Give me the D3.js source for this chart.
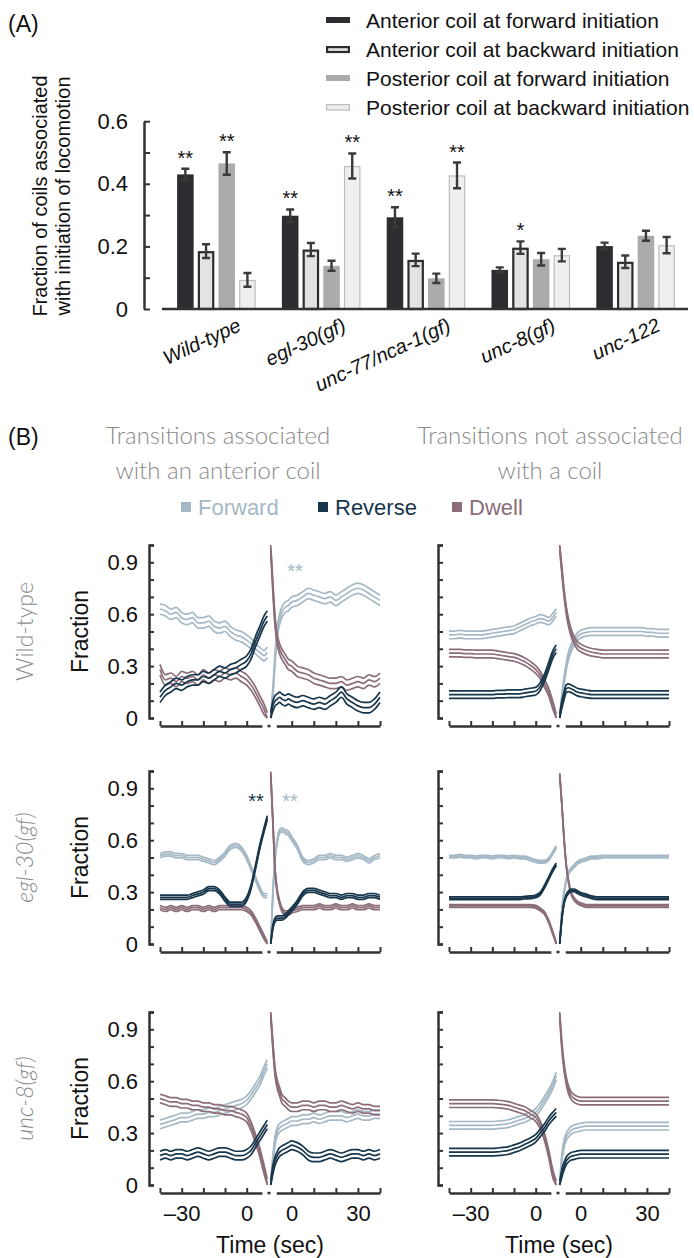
<!DOCTYPE html>
<html>
<head>
<meta charset="utf-8">
<script src="https://cdn.jsdelivr.net/npm/d3@7"></script>
<style>
  body { margin: 0; background: #fff; }
  svg { display: block; }
  text { font-family: "Liberation Sans", Arial, sans-serif; fill: #111; }
  .thin { font-family: Lato, "Open Sans", sans-serif; font-weight: 300; fill: #8a8a8a; }
</style>
</head>
<body>
<svg width="694" height="1258"></svg>
<script>
// ---- panel A data
const genotypes = ['Wild-type', 'egl-30(gf)', 'unc-77/nca-1(gf)', 'unc-8(gf)', 'unc-122']
const barNames = ['Anterior coil at forward initiation', 'Anterior coil at backward initiation',
  'Posterior coil at forward initiation', 'Posterior coil at backward initiation']
const antFwd = [0.43, 0.298, 0.293, 0.125, 0.201]
const antBwd = [0.185, 0.19, 0.157, 0.196, 0.151]
const postFwd = [0.465, 0.138, 0.098, 0.159, 0.234]
const postBwd = [0.093, 0.457, 0.427, 0.172, 0.204]
const antFwdErr = [0.018, 0.02, 0.032, 0.008, 0.011]
const antBwdErr = [0.022, 0.021, 0.02, 0.02, 0.02]
const postFwdErr = [0.036, 0.016, 0.015, 0.02, 0.016]
const postBwdErr = [0.022, 0.04, 0.041, 0.02, 0.026]
const antFwdSig = ['**', '**', '**', '', '']
const antBwdSig = ['', '', '', '*', '']
const postFwdSig = ['**', '', '', '', '']
const postBwdSig = ['', '**', '**', '', '']

// ---- panel B data (time in sec, value = fraction)
const tL = [-40, -37.5, -35, -32.5, -30, -27.5, -25, -22.5, -20, -17.5, -15, -12.5, -10, -7.5, -5, -2.5, 0, 2, 4, 6, 8, 9.5]
const tR = [-9.5, -8.5, -7.5, -6.5, -5.5, -4.5, -3, -1.5, 0, 2.5, 5, 7.5, 10, 12.5, 15, 17.5, 20, 22.5, 25, 27.5, 30, 32.5, 35, 37.5, 40]

const wtCoilFwdL = [.63,.62,.60,.61,.58,.57,.58,.55,.55,.56,.53,.52,.53,.50,.48,.47,.45,.43,.40,.38,.36,.38]
const wtCoilRevL = [.12,.16,.18,.20,.19,.21,.22,.22,.24,.23,.25,.27,.26,.28,.29,.31,.33,.37,.44,.50,.56,.59]
const wtCoilDwlL = [.28,.22,.23,.21,.24,.23,.24,.22,.25,.23,.25,.24,.26,.25,.26,.24,.22,.19,.15,.10,.05,0]
const wtCoilFwdR = [0,.15,.35,.50,.57,.61,.64,.65,.67,.68,.70,.72,.71,.70,.69,.70,.68,.70,.72,.74,.75,.74,.72,.70,.68]
const wtCoilRevR = [0,.07,.10,.11,.12,.11,.10,.11,.10,.09,.10,.09,.08,.09,.08,.10,.12,.15,.11,.09,.07,.06,.06,.08,.12]
const wtCoilDwlR = [.98,.75,.55,.45,.40,.37,.34,.31,.30,.27,.26,.25,.23,.22,.21,.20,.20,.21,.19,.20,.21,.20,.22,.21,.23]

const wtFreeFwdL = [.48,.48,.485,.48,.48,.48,.48,.485,.49,.495,.50,.505,.51,.525,.54,.555,.565,.575,.57,.56,.585,.61]
const wtFreeRevL = [.135,.135,.135,.135,.135,.135,.135,.135,.135,.138,.138,.14,.14,.14,.145,.15,.155,.18,.23,.30,.37,.40]
const wtFreeDwlL = [.375,.375,.375,.372,.372,.37,.37,.37,.37,.365,.36,.355,.35,.34,.325,.305,.28,.25,.20,.15,.07,0]
const wtFreeFwdR = [0,.12,.22,.30,.36,.40,.44,.47,.485,.495,.50,.50,.50,.50,.50,.50,.50,.50,.50,.50,.495,.495,.49,.49,.49]
const wtFreeRevR = [0,.08,.13,.17,.175,.17,.16,.15,.145,.14,.135,.135,.135,.135,.135,.135,.135,.135,.135,.135,.135,.135,.135,.135,.135]
const wtFreeDwlR = [.99,.85,.72,.62,.55,.50,.45,.42,.405,.39,.38,.375,.37,.37,.37,.37,.37,.37,.37,.37,.37,.37,.37,.37,.37]

const eglCoilFwdL = [.51,.52,.52,.51,.51,.50,.50,.50,.49,.48,.47,.49,.52,.56,.57,.55,.50,.44,.38,.32,.28,.28]
const eglCoilRevL = [.27,.27,.27,.27,.27,.27,.28,.29,.30,.32,.32,.30,.26,.23,.23,.23,.26,.33,.44,.56,.66,.73]
const eglCoilDwlL = [.21,.20,.21,.20,.21,.20,.21,.21,.20,.21,.20,.21,.21,.21,.21,.21,.20,.18,.14,.09,.04,0]
const eglCoilFwdR = [0,.30,.50,.60,.65,.66,.65,.64,.61,.56,.49,.47,.48,.50,.50,.51,.50,.50,.49,.50,.51,.50,.48,.50,.51]
const eglCoilRevR = [0,.10,.14,.15,.15,.15,.16,.18,.20,.24,.29,.31,.31,.30,.29,.28,.28,.27,.28,.28,.27,.27,.28,.28,.27]
const eglCoilDwlR = [.985,.70,.42,.30,.24,.20,.18,.18,.19,.20,.21,.21,.21,.22,.21,.21,.22,.21,.21,.22,.21,.21,.22,.21,.21]

const eglFreeFwdL = [.505,.505,.51,.505,.505,.50,.505,.505,.50,.505,.505,.50,.505,.50,.50,.49,.48,.475,.475,.49,.53,.56]
const eglFreeRevL = [.265,.265,.265,.265,.265,.265,.265,.265,.265,.265,.265,.265,.265,.265,.268,.27,.275,.29,.33,.38,.43,.46]
const eglFreeDwlL = [.22,.22,.22,.22,.22,.22,.22,.22,.22,.22,.22,.22,.22,.22,.22,.22,.215,.20,.18,.13,.06,0]
const eglFreeFwdR = [0,.20,.30,.37,.41,.43,.45,.47,.48,.49,.50,.50,.505,.505,.505,.505,.505,.505,.505,.505,.505,.505,.505,.505,.505]
const eglFreeRevR = [0,.15,.24,.28,.30,.31,.31,.30,.29,.28,.27,.265,.265,.265,.265,.265,.265,.265,.265,.265,.265,.265,.265,.265,.265]
const eglFreeDwlR = [.98,.80,.60,.45,.36,.30,.26,.24,.23,.22,.22,.22,.22,.22,.22,.22,.22,.22,.22,.22,.22,.22,.22,.22,.22]

const uncCoilFwdL = [.35,.36,.37,.38,.39,.39,.40,.41,.41,.42,.42,.43,.44,.45,.46,.47,.49,.52,.56,.60,.66,.70]
const uncCoilRevL = [.17,.18,.17,.18,.18,.17,.18,.19,.18,.17,.18,.19,.19,.18,.17,.17,.18,.20,.24,.28,.32,.35]
const uncCoilDwlL = [.50,.49,.48,.48,.47,.47,.46,.46,.45,.45,.44,.44,.43,.43,.42,.41,.39,.34,.27,.19,.09,.01]
const uncCoilFwdR = [0,.15,.26,.31,.33,.34,.35,.36,.37,.37,.38,.38,.39,.38,.39,.40,.40,.40,.39,.40,.41,.40,.40,.41,.41]
const uncCoilRevR = [0,.09,.14,.17,.19,.20,.21,.22,.23,.22,.20,.17,.16,.16,.17,.18,.17,.16,.17,.18,.18,.17,.18,.17,.18]
const uncCoilDwlR = [.99,.80,.65,.58,.54,.50,.48,.46,.45,.45,.46,.46,.45,.46,.46,.45,.45,.46,.45,.44,.45,.44,.44,.43,.43]

const uncFreeFwdL = [.345,.345,.345,.345,.345,.345,.345,.345,.345,.348,.35,.355,.365,.375,.385,.40,.42,.45,.49,.53,.58,.63]
const uncFreeRevL = [.19,.19,.19,.19,.19,.19,.19,.19,.19,.192,.195,.20,.21,.22,.235,.25,.27,.30,.33,.37,.40,.42]
const uncFreeDwlL = [.47,.47,.47,.47,.47,.47,.47,.47,.47,.468,.465,.46,.45,.44,.43,.41,.39,.35,.28,.18,.06,0]
const uncFreeFwdR = [0,.16,.24,.28,.30,.315,.325,.33,.335,.34,.34,.34,.34,.34,.34,.34,.34,.34,.34,.34,.34,.34,.34,.34,.34]
const uncFreeRevR = [0,.07,.11,.14,.155,.165,.17,.175,.178,.178,.178,.178,.178,.178,.178,.178,.178,.178,.178,.178,.178,.178,.178,.178,.178]
const uncFreeDwlR = [.99,.80,.68,.60,.55,.52,.50,.49,.485,.485,.485,.485,.485,.485,.485,.485,.485,.485,.485,.485,.485,.485,.485,.485,.485]

// standard error per panel (band half-width)
const semPanels = [0.03, 0.022, 0.012, 0.008, 0.025, 0.022]
const rowNames = ['Wild-type', 'egl-30(gf)', 'unc-8(gf)']
const stateNames = ['Forward', 'Reverse', 'Dwell']

const svg = d3.select('svg')
const ink = '#333'
const colFwd = '#a4b9c5', colRev = '#17364b', colDwl = '#8b6c79'

// ================= panel A
svg.append('text').attr('x', 8).attr('y', 32).style('font-size', '23px').text('(A)')

const yA = d3.scaleLinear().domain([0, 0.6]).range([309, 121.2])
const xA = d3.scaleBand().domain(genotypes).range([164, 688]).paddingInner(0.25).paddingOuter(0.125)
const xA1 = d3.scaleBand().domain(d3.range(4)).range([0, xA.bandwidth()]).paddingInner(0.2)

const barStyle = [
  { fill: '#2d2d31', stroke: 'none', sw: 0 },
  { fill: '#e3e3e3', stroke: '#2d2d2d', sw: 2.2 },
  { fill: '#ababab', stroke: 'none', sw: 0 },
  { fill: '#efefef', stroke: '#bdbdbd', sw: 1.2 }
]
const barVals = [antFwd, antBwd, postFwd, postBwd]
const barErrs = [antFwdErr, antBwdErr, postFwdErr, postBwdErr]
const barSigs = [antFwdSig, antBwdSig, postFwdSig, postBwdSig]

const bars = genotypes.flatMap((g, gi) => barVals.map((vals, si) => ({
  g, si, v: vals[gi], e: barErrs[si][gi], sig: barSigs[si][gi]
})))

const barG = svg.append('g')
  .selectAll('g')
  .data(bars)
  .join('g')
  .attr('transform', d => `translate(${xA(d.g) + xA1(d.si)},0)`)

barG.append('rect')
  .attr('x', d => barStyle[d.si].sw / 2)
  .attr('y', d => yA(d.v) + barStyle[d.si].sw / 2)
  .attr('width', d => xA1.bandwidth() - barStyle[d.si].sw)
  .attr('height', d => yA(0) - yA(d.v) - barStyle[d.si].sw / 2)
  .attr('fill', d => barStyle[d.si].fill)
  .attr('stroke', d => barStyle[d.si].stroke)
  .attr('stroke-width', d => barStyle[d.si].sw)

const bw = xA1.bandwidth()
barG.append('path')
  .attr('d', d => {
    const c = bw / 2, t = yA(d.v + d.e), b = yA(d.v - d.e)
    return `M${c},${t}V${b}M${c - 4},${t}H${c + 4}M${c - 4},${b}H${c + 4}`
  })
  .attr('fill', 'none').attr('stroke', '#3a3a3a').attr('stroke-width', 2.4)

barG.filter(d => d.sig).append('text')
  .attr('x', bw / 2)
  .attr('y', d => yA(d.v + d.e) - 4)
  .attr('text-anchor', 'middle')
  .style('font-size', '20px')
  .text(d => d.sig)

// baseline
svg.append('line').attr('x1', 162).attr('x2', 688).attr('y1', yA(0)).attr('y2', yA(0))
  .attr('stroke', ink).attr('stroke-width', 2.5)

const axA = svg.append('g').attr('transform', 'translate(144,0)')
  .call(d3.axisLeft(yA).tickValues([0, 0.1, 0.2, 0.3, 0.4, 0.5, 0.6])
    .tickSizeInner(-6).tickSizeOuter(0).tickPadding(16)
    .tickFormat(d => Math.round(d * 10) % 2 === 0 ? (d === 0 ? '0' : d3.format('.1f')(d)) : ''))
axA.select('.domain').attr('stroke', ink).attr('stroke-width', 2.5)
axA.selectAll('.tick line').attr('stroke', ink).attr('stroke-width', 2)
axA.selectAll('.tick text').style('font-size', '22px').attr('fill', '#111')

svg.append('text')
  .attr('transform', 'translate(47,196) rotate(-90)')
  .attr('text-anchor', 'middle').style('font-size', '20px')
  .text('Fraction of coils associated')
svg.append('text')
  .attr('transform', 'translate(70,196) rotate(-90)')
  .attr('text-anchor', 'middle').style('font-size', '20px')
  .text('with initiation of locomotion')

svg.append('g').selectAll('text')
  .data(genotypes)
  .join('text')
  .attr('transform', d => `translate(${xA(d) + xA.bandwidth() / 2 + 26},330) rotate(-25)`)
  .attr('text-anchor', 'end')
  .style('font-size', '20px').style('font-style', 'italic')
  .text(d => d)

const legA = svg.append('g').selectAll('g')
  .data(barNames)
  .join('g')
  .attr('transform', (d, i) => `translate(326,${20 + i * 29})`)
legA.append('rect')
  .attr('x', (d, i) => barStyle[i].sw / 2)
  .attr('y', (d, i) => -3 + barStyle[i].sw / 2)
  .attr('width', (d, i) => 24 - barStyle[i].sw)
  .attr('height', (d, i) => 6 - barStyle[i].sw / 2)
  .attr('fill', (d, i) => barStyle[i].fill)
  .attr('stroke', (d, i) => barStyle[i].stroke)
  .attr('stroke-width', (d, i) => barStyle[i].sw)
legA.append('text')
  .attr('x', 40).attr('dy', '0.36em')
  .style('font-size', '21px')
  .text(d => d)

// ================= panel B
svg.append('text').attr('x', 8).attr('y', 445).style('font-size', '23px').text('(B)')

const titles = [['Transitions associated', 'with an anterior coil'], ['Transitions not associated', 'with a coil']]
const titleX = [218, 550]
titles.forEach((lines, c) => {
  svg.append('text').attr('class', 'thin')
    .attr('x', titleX[c]).attr('y', 444)
    .attr('text-anchor', 'middle').style('font-size', '24px')
    .selectAll('tspan').data(lines).join('tspan')
    .attr('x', titleX[c]).attr('dy', (d, i) => i ? '1.45em' : 0)
    .text(d => d)
})

const stateCols = [colFwd, colRev, colDwl]
const legB = svg.append('g').selectAll('g')
  .data(stateNames)
  .join('g')
  .attr('transform', (d, i) => `translate(${[181, 318, 452][i]},507)`)
legB.append('rect').attr('x', 0).attr('y', -5).attr('width', 10).attr('height', 10)
  .attr('fill', (d, i) => stateCols[i])
legB.append('text').attr('x', 17).attr('dy', '0.36em')
  .style('font-size', '22px')
  .style('fill', (d, i) => stateCols[i])
  .text(d => d)

const xL = d3.scaleLinear().domain([-40, 0]).range([160, 246.7])
const xR = d3.scaleLinear().domain([0, 40]).range([291.7, 380])
const rowY0 = [718, 944, 1185]
const colDx = [0, 289]

const panels = [
  { r: 0, c: 0, fwd: [wtCoilFwdL, wtCoilFwdR], rev: [wtCoilRevL, wtCoilRevR], dwl: [wtCoilDwlL, wtCoilDwlR] },
  { r: 0, c: 1, fwd: [wtFreeFwdL, wtFreeFwdR], rev: [wtFreeRevL, wtFreeRevR], dwl: [wtFreeDwlL, wtFreeDwlR] },
  { r: 1, c: 0, fwd: [eglCoilFwdL, eglCoilFwdR], rev: [eglCoilRevL, eglCoilRevR], dwl: [eglCoilDwlL, eglCoilDwlR] },
  { r: 1, c: 1, fwd: [eglFreeFwdL, eglFreeFwdR], rev: [eglFreeRevL, eglFreeRevR], dwl: [eglFreeDwlL, eglFreeDwlR] },
  { r: 2, c: 0, fwd: [uncCoilFwdL, uncCoilFwdR], rev: [uncCoilRevL, uncCoilRevR], dwl: [uncCoilDwlL, uncCoilDwlR] },
  { r: 2, c: 1, fwd: [uncFreeFwdL, uncFreeFwdR], rev: [uncFreeRevL, uncFreeRevR], dwl: [uncFreeDwlL, uncFreeDwlR] }
]

// significance marks in panel B: [panel, half, time, value, colour]
const starsB = [
  [0, 'R', 1.5, 0.87, colFwd],
  [2, 'L', 4.3, 0.85, colRev],
  [2, 'R', -0.8, 0.85, colFwd]
]

function drawSeries (g, y, tt, xs, vals, sem, color) {
  [-1, 1, 0].forEach(k => {
    const line = d3.line()
      .x((d, i) => xs(tt[i]))
      .y(d => y(Math.min(1, Math.max(0, d + k * sem))))
      .curve(d3.curveMonotoneX)
    g.append('path')
      .attr('d', line(vals))
      .attr('fill', 'none')
      .attr('stroke', color)
      .attr('stroke-width', 1.7)
      .attr('stroke-linejoin', 'round')
  })
}

panels.forEach((p, pi) => {
  const y0 = rowY0[p.r]
  const y = d3.scaleLinear().domain([0, 1]).range([y0, y0 - 173])
  const g = svg.append('g').attr('transform', `translate(${colDx[p.c]},0)`)
  const sem = semPanels[pi]

  // axes
  const ax = g.append('g').attr('transform', `translate(149,0)`)
    .call(d3.axisLeft(y).tickValues(d3.range(11).map(i => i / 10))
      .tickSizeInner(-5).tickSizeOuter(-5).tickPadding(11)
      .tickFormat(d => {
        const k = Math.round(d * 10)
        if (p.c === 1 || k % 3 !== 0 || k === 10) return ''
        return k === 0 ? '0' : d3.format('.1f')(d)
      }))
  ax.select('.domain').attr('stroke', ink).attr('stroke-width', 2.5)
  ax.selectAll('.tick line').attr('stroke', ink).attr('stroke-width', 2)
  ax.selectAll('.tick text').style('font-size', '22px').attr('fill', '#111')

  const xa = y0 + 8
  const axL = xL.copy().domain([-40, 7]).range([xL(-40), xL(7)])
  const axR = xR.copy().domain([-7, 40]).range([xR(-7), xR(40)])
  const labL = p.r === 2 ? { '-30': '\u201330', '0': '0' } : {}
  const labR = p.r === 2 ? { '0': '0', '30': '30' } : {}
  ;[[axL, [-40, -30, -20, -10, 0], labL], [axR, [0, 10, 20, 30, 40], labR]].forEach(([sc, tv, lab]) => {
    const a = g.append('g').attr('transform', `translate(0,${xa})`)
      .call(d3.axisBottom(sc).tickValues(tv).tickSizeInner(-5).tickSizeOuter(0).tickPadding(12)
        .tickFormat(d => lab[d] || ''))
    a.select('.domain').attr('stroke', ink).attr('stroke-width', 2.5)
    a.selectAll('.tick line').attr('stroke', ink).attr('stroke-width', 2)
    a.selectAll('.tick text').style('font-size', '22px').attr('fill', '#111')
  })
  g.append('rect').attr('x', (xL(9.5) + xR(-9.5)) / 2 - 1.5).attr('y', xa - 1.2)
    .attr('width', 3).attr('height', 2.5).attr('fill', ink)

  // data
  const series = [[p.fwd, colFwd], [p.dwl, colDwl], [p.rev, colRev]]
  series.forEach(([pair, color]) => {
    drawSeries(g, y, tL, xL, pair[0], sem, color)
    drawSeries(g, y, tR, xR, pair[1], sem, color)
  })

  starsB.filter(s => s[0] === pi).forEach(s => {
    const xs = s[1] === 'L' ? xL : xR
    g.append('text').attr('x', xs(s[2])).attr('y', y(s[3]) + 11)
      .attr('text-anchor', 'middle').style('font-size', '20px')
      .style('fill', s[4]).text('**')
  })

  if (p.c === 0) {
    g.append('text')
      .attr('transform', `translate(88,${y(0.5)}) rotate(-90)`)
      .attr('text-anchor', 'middle').style('font-size', '23px')
      .text('Fraction')
    g.append('text').attr('class', 'thin')
      .attr('transform', `translate(33,${y(0.5)}) rotate(-90)`)
      .attr('text-anchor', 'middle').style('font-size', '23px')
      .style('font-style', p.r === 0 ? 'normal' : 'italic')
      .text(rowNames[p.r])
  }
  if (p.r === 2) {
    g.append('text')
      .attr('x', 270).attr('y', 1253)
      .attr('text-anchor', 'middle').style('font-size', '23px')
      .text('Time (sec)')
  }
})
</script>
</body>
</html>
